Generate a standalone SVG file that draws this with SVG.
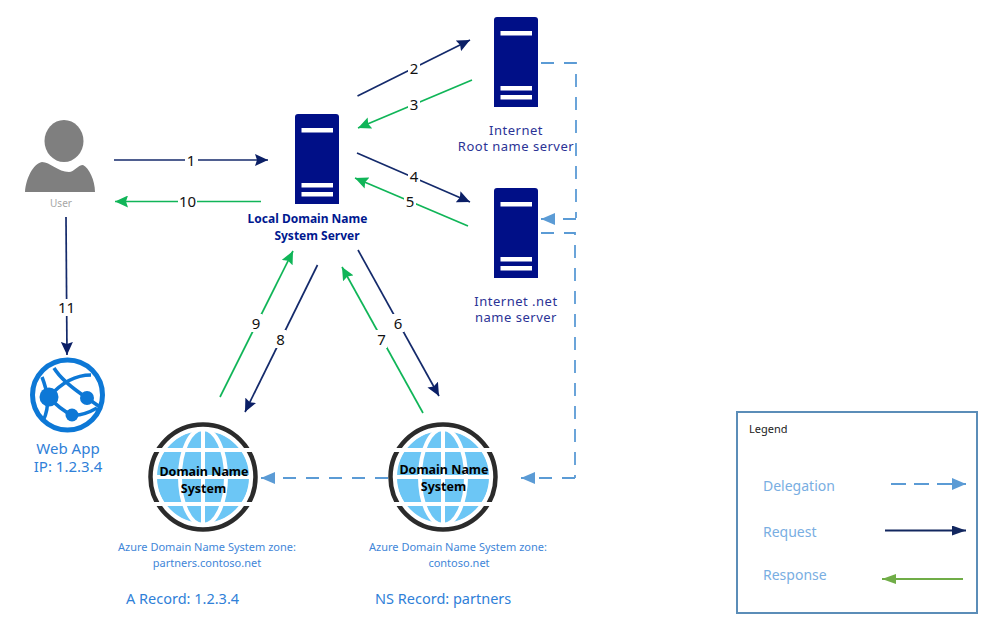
<svg xmlns="http://www.w3.org/2000/svg" width="1003" height="623" viewBox="0 0 1003 623">
<style>
text{font-family:"Noto Sans","Open Sans","Liberation Sans",sans-serif;text-anchor:middle}
.req,.res,.del,.lreq,.lres,.ldel{fill:none}
.req{stroke:#142a6b;stroke-width:1.7;marker-end:url(#mReq)}
.res{stroke:#10b558;stroke-width:1.7;marker-end:url(#mRes)}
.del{stroke:#5b9bd5;stroke-width:1.8;stroke-dasharray:13 10;marker-end:url(#mDel)}
.delp{fill:none;stroke:#5b9bd5;stroke-width:1.8;stroke-dasharray:13 10}
.num{font-size:15px;fill:#111}
.knock{fill:#fff}
.srv{fill:#000f87}
.bar{fill:#fff}
.srvt{font-size:13px;fill:#2b3396;letter-spacing:.5px}
.zone{font-size:11px;fill:#3f86d8}
.rec{font-size:14.5px;fill:#2f80d8;text-anchor:start}
.dns{font-size:12.5px;font-weight:700;fill:#000}
.leg{font-size:14px;fill:#79aee2;text-anchor:start}
</style>
<defs>
<marker id="mReq" markerUnits="userSpaceOnUse" markerWidth="14" markerHeight="12" refX="13" refY="6" orient="auto"><path d="M0 0L13 6L0 12L2 6Z" fill="#0b1f66"/></marker>
<marker id="mRes" markerUnits="userSpaceOnUse" markerWidth="14" markerHeight="12" refX="13" refY="6" orient="auto"><path d="M0 0L13 6L0 12L2 6Z" fill="#10b558"/></marker>
<marker id="mDel" markerUnits="userSpaceOnUse" markerWidth="15" markerHeight="12" refX="14" refY="6" orient="auto"><path d="M0 0L14 6L0 12Z" fill="#5b9bd5"/></marker>
<marker id="mLReq" markerUnits="userSpaceOnUse" markerWidth="15" markerHeight="12" refX="14" refY="5" orient="auto"><path d="M0 0L14 5L0 10Z" fill="#12275f"/></marker>
<marker id="mLRes" markerUnits="userSpaceOnUse" markerWidth="15" markerHeight="12" refX="14" refY="5" orient="auto"><path d="M0 0L14 5L0 10Z" fill="#70ad47"/></marker>
<g id="globe">
<circle r="52.5" fill="#fff" stroke="#2b2b2b" stroke-width="4.5"/>
<circle r="46.5" fill="#6cc6f5"/>
<g fill="none" stroke="#fff" stroke-width="4">
<path d="M-50 0H50M-50-27H50M-50 27H50M0-50V50"/>
<ellipse rx="23" ry="48"/>
</g>
<circle r="47.5" fill="none" stroke="#fff" stroke-width="3"/>
</g>
<g id="server">
<path class="srv" d="M0 3Q0 0 3 0H41Q44 0 44 3V90H0Z"/>
<rect class="bar" x="6.5" y="14" width="31.5" height="4.5"/>
<rect class="bar" x="6.5" y="69" width="31.5" height="4.5"/>
<rect class="bar" x="6.5" y="78" width="31.5" height="4.5"/>
</g>
</defs>
<rect width="1003" height="623" fill="#fff"/>

<g id="connectors">
<path class="req" d="M114 160H268"/>
<path class="res" d="M261 201.5H115"/>
<path class="req" d="M66 217L67 355"/>
<path class="req" d="M357.500 96L470 40"/>
<path class="res" d="M472 80L358 128"/>
<path class="req" d="M357 153L470 202"/>
<path class="res" d="M468 226L355 178"/>
<path class="req" d="M358 250L439 396"/>
<path class="res" d="M423 413L342 267"/>
<path class="req" d="M317.500 265L245 412"/>
<path class="res" d="M220 397L293 251"/>
<path class="delp" d="M541 63H576V218"/>
<path class="del" d="M576 219H541"/>
<path class="delp" d="M541 233H575V478"/>
<path class="del" d="M575 478H521"/>
<path class="del" d="M388 478H261"/>
<g>
<rect class="knock" x="185" y="152" width="13" height="17"/><text class="num" x="191" y="165.500">1</text>
<rect class="knock" x="178" y="193" width="19" height="17"/><text class="num" x="187.500" y="207">10</text>
<rect class="knock" x="57" y="299" width="19" height="17"/><text class="num" x="66.500" y="312.500">11</text>
<rect class="knock" x="408" y="60" width="12" height="17"/><text class="num" x="414" y="73.500">2</text>
<rect class="knock" x="408" y="96" width="12" height="17"/><text class="num" x="414" y="109.500">3</text>
<rect class="knock" x="408" y="168" width="12" height="17"/><text class="num" x="414" y="181.500">4</text>
<rect class="knock" x="404" y="193" width="12" height="17"/><text class="num" x="410" y="206.500">5</text>
<rect class="knock" x="392" y="314" width="12" height="18"/><text class="num" x="398" y="328.500">6</text>
<rect class="knock" x="375" y="330" width="12" height="18"/><text class="num" x="381.500" y="344.500">7</text>
<rect class="knock" x="274" y="330" width="12" height="18"/><text class="num" x="280.500" y="344.500">8</text>
<rect class="knock" x="250" y="314" width="12" height="18"/><text class="num" x="256" y="328.500">9</text>
</g>
</g>

<g id="user">
<ellipse cx="64" cy="141" rx="19.500" ry="21" fill="#7f7f7f"/>
<path d="M25 192C26 178 33 164 42 162C50 162 58 172 69 172C74 172 78 165 83 165C89 168 95 180 95 192Z" fill="#7f7f7f"/>
<text x="61" y="207" font-size="10" fill="#a6a6a6" style="font-size:10px">User</text>
</g>

<g id="webapp">
<circle cx="67.500" cy="395" r="35" fill="none" stroke="#0d78d6" stroke-width="5"/>
<g fill="none" stroke="#0d78d6" stroke-width="3.500">
<path d="M42 377C47 390 51 405 43 421"/>
<path d="M49 397C62 382 76 375 91 375"/>
<path d="M54 368C60 378 72 388 87 398L100 407"/>
<path d="M49 397C56 405 63 411 72 415C82 416 90 412 97 408"/>
</g>
<circle cx="49" cy="397" r="9.500" fill="#0d78d6"/>
<circle cx="87" cy="398" r="7" fill="#0d78d6"/>
<circle cx="72" cy="415" r="6.500" fill="#0d78d6"/>
<text x="68" y="454" style="font-size:15px;fill:#2f80d8">Web App</text>
<text x="68" y="472" style="font-size:15px;fill:#2f80d8">IP: 1.2.3.4</text>
</g>

<g id="local-dns">
<use href="#server" x="295" y="114"/>
<text x="307.500" y="223" style="font-size:12px;font-weight:700;fill:#00188f">Local Domain Name</text>
<text x="317" y="240" style="font-size:12px;font-weight:700;fill:#00188f">System Server</text>
</g>

<g id="root-server">
<use href="#server" x="494" y="17"/>
<text class="srvt" x="516" y="135">Internet</text>
<text class="srvt" x="516" y="151">Root name server</text>
</g>

<g id="net-server">
<use href="#server" x="494" y="188"/>
<text class="srvt" x="516" y="306">Internet .net</text>
<text class="srvt" x="516" y="322">name server</text>
</g>

<g id="dns-partners">
<use href="#globe" x="203" y="477"/>
<text class="dns" x="204" y="476">Domain Name</text>
<text class="dns" x="203.500" y="493">System</text>
<text class="zone" x="207" y="551">Azure Domain Name System zone:</text>
<text class="zone" x="207" y="567">partners.contoso.net</text>
<text class="rec" x="126" y="604">A Record: 1.2.3.4</text>
</g>

<g id="dns-contoso">
<use href="#globe" x="443" y="477"/>
<text class="dns" x="444" y="474">Domain Name</text>
<text class="dns" x="443.500" y="491">System</text>
<text class="zone" x="458" y="551">Azure Domain Name System zone:</text>
<text class="zone" x="459" y="567">contoso.net</text>
<text class="rec" x="375" y="604">NS Record: partners</text>
</g>

<g id="legend">
<rect x="737" y="412" width="240" height="201" fill="#fff" stroke="#5b8db8" stroke-width="2"/>
<text x="749" y="433" style="font-size:11px;fill:#222;text-anchor:start">Legend</text>
<text class="leg" x="763" y="491">Delegation</text>
<text class="leg" x="763" y="537">Request</text>
<text class="leg" x="763" y="580">Response</text>
<path d="M891 484H966" fill="none" stroke="#5b9bd5" stroke-width="1.800" stroke-dasharray="15 8" marker-end="url(#mDel)"/>
<path d="M885 530.500H966" fill="none" stroke="#12275f" stroke-width="1.800" marker-end="url(#mLReq)"/>
<path d="M963 579H882" fill="none" stroke="#70ad47" stroke-width="2" marker-end="url(#mLRes)"/>
</g>
</svg>
